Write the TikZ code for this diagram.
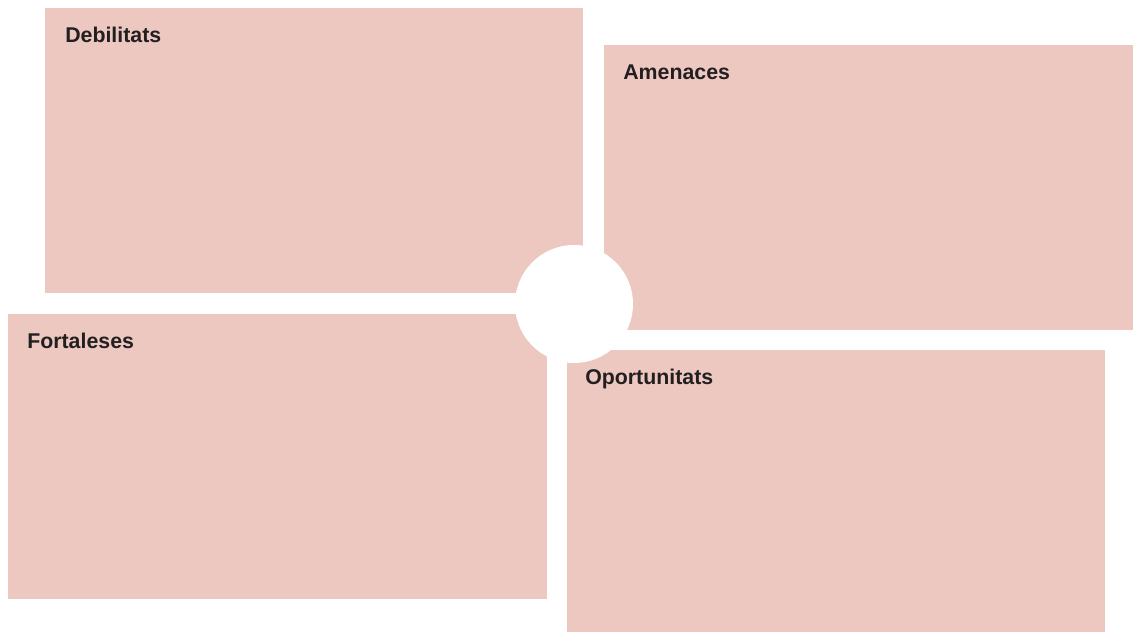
\documentclass[tikz,border=0pt]{standalone}
\usepackage{fontspec}
\setmainfont{Liberation Sans}
\usetikzlibrary{calc, positioning}
\definecolor{rosapal}{RGB}{237, 200, 192}
\definecolor{textfosc}{RGB}{35, 31, 32}
\tikzset{
  quadre/.style={fill=rosapal},
  etiqueta/.style={anchor=base west, inner sep=0pt, text=textfosc, font=\fontsize{16}{18}\selectfont\bfseries}
}

\begin{document}
\begin{tikzpicture}[x=0.75pt, y=-0.75pt, line join=round]
    	\useasboundingbox (0,0) rectangle (1134,633);

    	\coordinate (D1) at (45,8);
    	\coordinate (D2) at (583,293);
    	\coordinate (A1) at (604,45);
    	\coordinate (A2) at (1133,330);
    	\coordinate (F1) at (8,314);
    	\coordinate (F2) at (547,599);
    	\coordinate (O1) at (567,350);
    	\coordinate (O2) at (1105,632);
    	\coordinate (centre) at (574,304);

		\fill [quadre] (D1) rectangle (D2);
		\fill [quadre] (A1) rectangle (A2);
		\fill [quadre] (F1) rectangle (F2);
		\fill [quadre] (O1) rectangle (O2);

		\fill [white] (centre) circle [radius=44.25pt];

		\node [etiqueta] (tdeb) at ($(D1)+(20,34)$) {Debilitats};
		\node [etiqueta] (tame) at ($(A1)+(19,34)$) {Amenaces};
		\node [etiqueta] (tfor) at ($(F1)+(19,34)$) {Fortaleses};
		\node [etiqueta] (topo) at ($(O1)+(18,34)$) {Oportunitats};
    \end{tikzpicture}
\end{document}
